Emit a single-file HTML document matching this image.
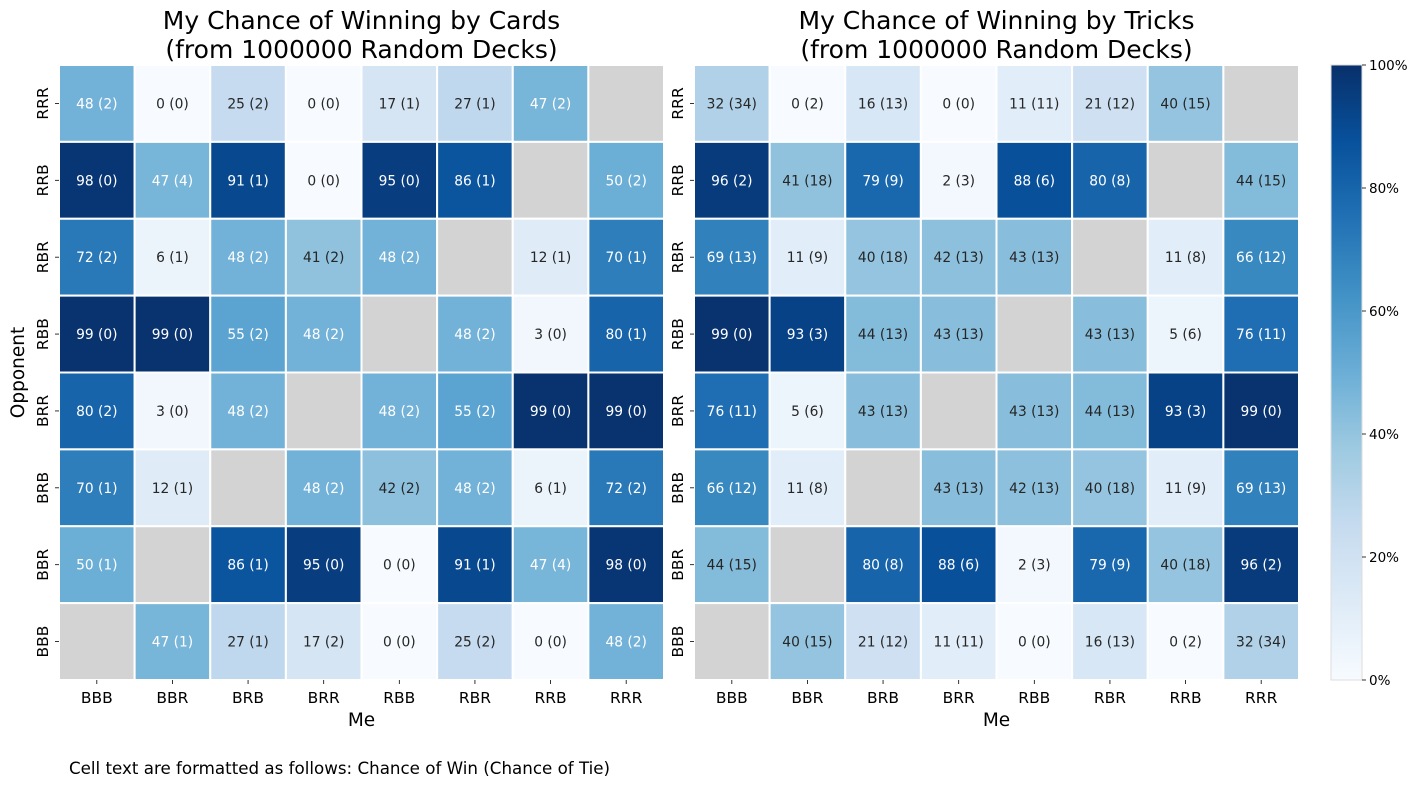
<!DOCTYPE html>
<html><head><meta charset="utf-8">
<style>
html,body{margin:0;padding:0;background:#fff;}
svg{display:block;font-family:"DejaVu Sans","Liberation Sans",sans-serif;}
</style></head>
<body>
<svg id="chart" width="1422" height="786" viewBox="0 0 1422 786" xmlns="http://www.w3.org/2000/svg"></svg>
<script>
const rowLabels = ["RRR","RRB","RBR","RBB","BRR","BRB","BBR","BBB"];
const colLabels = ["BBB","BBR","BRB","BRR","RBB","RBR","RRB","RRR"];
const cardsWin = [
 [48,0,25,0,17,27,47,null],
 [98,47,91,0,95,86,null,50],
 [72,6,48,41,48,null,12,70],
 [99,99,55,48,null,48,3,80],
 [80,3,48,null,48,55,99,99],
 [70,12,null,48,42,48,6,72],
 [50,null,86,95,0,91,47,98],
 [null,47,27,17,0,25,0,48]];
const cardsTie = [
 [2,0,2,0,1,1,2,null],
 [0,4,1,0,0,1,null,2],
 [2,1,2,2,2,null,1,1],
 [0,0,2,2,null,2,0,1],
 [2,0,2,null,2,2,0,0],
 [1,1,null,2,2,2,1,2],
 [1,null,1,0,0,1,4,0],
 [null,1,1,2,0,2,0,2]];
const tricksWin = [
 [32,0,16,0,11,21,40,null],
 [96,41,79,2,88,80,null,44],
 [69,11,40,42,43,null,11,66],
 [99,93,44,43,null,43,5,76],
 [76,5,43,null,43,44,93,99],
 [66,11,null,43,42,40,11,69],
 [44,null,80,88,2,79,40,96],
 [null,40,21,11,0,16,0,32]];
const tricksTie = [
 [34,2,13,0,11,12,15,null],
 [2,18,9,3,6,8,null,15],
 [13,9,18,13,13,null,8,12],
 [0,3,13,13,null,13,6,11],
 [11,6,13,null,13,13,3,0],
 [12,8,null,13,13,18,9,13],
 [15,null,8,6,3,9,18,2],
 [null,15,12,11,0,13,2,34]];
const cbTicks = [0,20,40,60,80,100];

const NS="http://www.w3.org/2000/svg";
const svg=document.getElementById('chart');
function mk(tag,attrs,parent){const e=document.createElementNS(NS,tag);for(const k in attrs)e.setAttribute(k,attrs[k]);(parent||svg).appendChild(e);return e;}
const stops=[[247,251,255],[222,235,247],[198,219,239],[158,202,225],[107,174,214],[66,146,198],[33,113,181],[8,81,156],[8,48,107]];
function blues(v){let t=Math.max(0,Math.min(1,v/100))*8;let i=Math.min(7,Math.floor(t));let f=t-i;const a=stops[i],b=stops[i+1];return `rgb(${a.map((c,k)=>Math.round(c+(b[k]-c)*f)).join(',')})`;}

const Y0=65,H=615,ny=8,nx=8;
const yScale=r=>Y0+r*H/ny;
function drawMap(x0,w,win,tie,title,key){
  const g=mk('g',{});
  
  
  const cw=w/nx,ch=H/ny;
  const xScale=c=>x0+c*cw;
  for(let r=0;r<ny;r++)for(let c=0;c<nx;c++){
    const v=win[r][c];
    const rect=mk('rect',{x:xScale(c),y:yScale(r),width:cw,height:ch,fill:v===null?'#d3d3d3':blues(v),stroke:'#fff','stroke-width':2},g);
    
    
    if(v!==null){
      const t=mk('text',{x:xScale(c)+cw/2,y:yScale(r)+ch/2+5,'text-anchor':'middle','font-size':13.8,fill:v>=47?'#fff':'#262626'},g);
      t.textContent=v+' ('+tie[r][c]+')';
      
      
    }
  }
  colLabels.forEach((l,c)=>{
    const x=xScale(c)+cw/2;
    mk('line',{x1:x,x2:x,y1:Y0+H,y2:Y0+H+4,stroke:'#000','stroke-width':0.8},g);
    const t=mk('text',{x:x,y:Y0+H+23,'text-anchor':'middle','font-size':15.5},g);
    t.textContent=l;
    
    
  });
  rowLabels.forEach((l,r)=>{
    const y=yScale(r)+ch/2;
    mk('line',{x1:x0-4,x2:x0,y1:y,y2:y,stroke:'#000','stroke-width':0.8},g);
    const t=mk('text',{x:x0-11,y:y,'text-anchor':'middle','font-size':15.5,transform:`rotate(-90 ${x0-11} ${y})`},g);
    t.textContent=l;
    
    
  });
  const xt=mk('text',{x:x0+w/2,y:726,'text-anchor':'middle','font-size':18.5},g);
  xt.textContent='Me';
  
  
  const t1=mk('text',{x:x0+w/2,y:29,'text-anchor':'middle','font-size':25},g);
  t1.textContent=title;
  
  
  const t2=mk('text',{x:x0+w/2,y:58,'text-anchor':'middle','font-size':25},g);
  t2.textContent='(from 1000000 Random Decks)';
  
  
}
drawMap(59,605,cardsWin,cardsTie,'My Chance of Winning by Cards','cards');
drawMap(694,605,tricksWin,tricksTie,'My Chance of Winning by Tricks','tricks');

const yt=mk('text',{x:24,y:Y0+H/2,'text-anchor':'middle','font-size':18.5,transform:`rotate(-90 24 ${Y0+H/2})`});
yt.textContent='Opponent';



const defs=mk('defs',{});
const lg=mk('linearGradient',{id:'cbg',x1:0,y1:1,x2:0,y2:0},defs);
stops.forEach((s,i)=>mk('stop',{offset:i/8,'stop-color':`rgb(${s.join(',')})`},lg));
const cbx=1331,cbw=31;
const cb=mk('rect',{x:cbx,y:Y0,width:cbw,height:H,fill:'url(#cbg)',stroke:'#ddd','stroke-width':1});


cbTicks.forEach(v=>{
  const y=Y0+H-v/100*H;
  mk('line',{x1:cbx+cbw,x2:cbx+cbw+4,y1:y,y2:y,stroke:'#000','stroke-width':0.8});
  const t=mk('text',{x:cbx+cbw+7,y:y+5,'font-size':13.5});
  t.textContent=v+'%';
  
  
});

const note=mk('text',{x:69,y:774,'font-size':16.7});
note.textContent='Cell text are formatted as follows: Chance of Win (Chance of Tie)';


</script>
</body></html>
